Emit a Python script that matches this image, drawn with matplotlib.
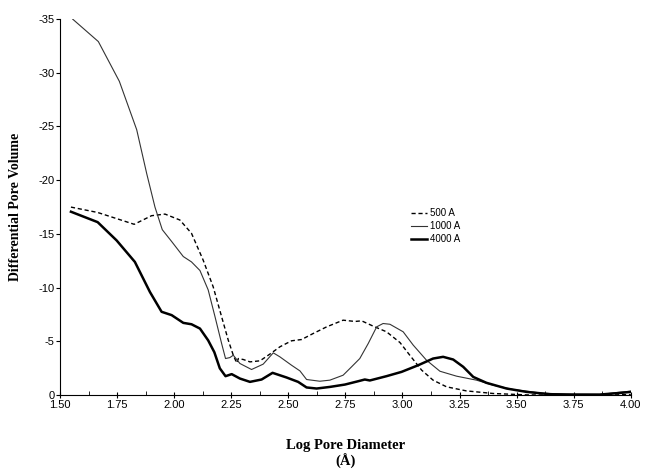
import matplotlib.pyplot as plt
from matplotlib.ticker import MultipleLocator, FormatStrFormatter

plt.rcParams['axes.unicode_minus'] = False

# pore volume curves (log diameter, differential volume)
x_500 = [1.548, 1.665, 1.825, 1.901, 1.960, 2.025, 2.076, 2.127, 2.171, 2.208,
         2.237, 2.259, 2.274, 2.281, 2.303, 2.332, 2.376, 2.419, 2.463, 2.514,
         2.558, 2.609, 2.668, 2.740, 2.792, 2.821, 2.872, 2.930, 2.989, 3.032,
         3.084, 3.134, 3.193, 3.280, 3.397, 3.543, 3.718, 3.864, 4.000]
y_500 = [-17.5, -17.0, -15.9, -16.7, -16.85, -16.3, -15.06, -12.57, -10.08, -7.29,
         -5.12, -3.72, -3.0, -3.41, -3.32, -3.1, -3.2, -3.82, -4.5, -5.06,
         -5.18, -5.74, -6.36, -6.98, -6.86, -6.92, -6.42, -5.9, -4.9, -3.72,
         -2.33, -1.40, -0.78, -0.40, -0.16, -0.03, 0.0, 0.0, -0.06]

x_1000 = [1.556, 1.668, 1.760, 1.836, 1.880, 1.916, 1.948, 1.989, 2.040, 2.076,
          2.113, 2.149, 2.179, 2.208, 2.225, 2.244, 2.259, 2.288, 2.339, 2.390,
          2.434, 2.463, 2.514, 2.551, 2.580, 2.638, 2.682, 2.740, 2.777, 2.813,
          2.850, 2.887, 2.915, 2.945, 3.003, 3.047, 3.105, 3.164, 3.237, 3.324,
          3.397, 3.485, 3.602, 3.718, 3.864, 3.952, 4.000]
y_1000 = [-34.98, -32.9, -29.2, -24.7, -20.6, -17.5, -15.4, -14.3, -12.9, -12.4,
          -11.6, -9.8, -7.3, -4.8, -3.41, -3.5, -3.72, -2.95, -2.39, -2.89,
          -3.94, -3.57, -2.79, -2.26, -1.46, -1.3, -1.4, -1.86, -2.64, -3.41,
          -4.81, -6.36, -6.67, -6.6, -5.9, -4.66, -3.26, -2.23, -1.77, -1.4,
          -0.93, -0.53, -0.21, -0.09, -0.06, -0.28, -0.37]

x_4000 = [1.548, 1.665, 1.748, 1.828, 1.894, 1.945, 1.989, 2.040, 2.076, 2.113,
          2.149, 2.176, 2.200, 2.225, 2.252, 2.288, 2.332, 2.383, 2.431, 2.492,
          2.543, 2.580, 2.624, 2.682, 2.748, 2.806, 2.835, 2.857, 2.930, 2.996,
          3.069, 3.134, 3.178, 3.222, 3.266, 3.310, 3.368, 3.456, 3.543, 3.645,
          3.747, 3.864, 3.952, 4.000]
y_4000 = [-17.07, -16.1, -14.4, -12.4, -9.6, -7.76, -7.45, -6.73, -6.6, -6.2,
          -5.1, -4.0, -2.5, -1.77, -1.96, -1.55, -1.24, -1.46, -2.08, -1.65,
          -1.24, -0.72, -0.62, -0.77, -0.99, -1.3, -1.46, -1.37, -1.77, -2.17,
          -2.79, -3.41, -3.57, -3.32, -2.64, -1.70, -1.15, -0.62, -0.31, -0.09,
          -0.06, -0.06, -0.21, -0.31]

fig = plt.figure(figsize=(6.45, 4.75), dpi=100)
ax = fig.add_axes([0.093, 0.168, 0.885, 0.792])

ax.plot(x_500, y_500, linestyle=(0, (3, 2)), color="black", linewidth=1.0, label="500 A")
ax.plot(x_1000, y_1000, linestyle="-", color="#333333", linewidth=0.8, label="1000 A")
ax.plot(x_4000, y_4000, linestyle="-", color="black", linewidth=1.8, label="4000 A")

ax.set_xlim(1.5, 4.0)
ax.set_ylim(0, -35)
ax.xaxis.set_major_locator(MultipleLocator(0.25))
ax.xaxis.set_minor_locator(MultipleLocator(0.125))
ax.xaxis.set_major_formatter(FormatStrFormatter('%.2f'))
ax.yaxis.set_major_locator(MultipleLocator(5))

for s in ["top", "right"]:
    ax.spines[s].set_visible(False)
ax.tick_params(axis="x", which="major", direction="inout", length=5, labelsize=8, pad=1)
ax.tick_params(axis="x", which="minor", direction="in", length=3)
ax.tick_params(axis="y", direction="out", length=3, labelsize=8, pad=1)
for lbl in ax.get_xticklabels() + ax.get_yticklabels():
    lbl.set_family("Liberation Sans")

ax.set_ylabel("Differential Pore Volume", family="Liberation Serif", fontsize=10,
              fontweight="bold", labelpad=12)
ax.set_xlabel("Log Pore Diameter\n(Å)", family="Liberation Serif", fontsize=10.5,
              fontweight="bold", labelpad=21, linespacing=1.15)

leg = ax.legend(loc="upper left", bbox_to_anchor=(0.6, 0.52), frameon=False,
                prop={"family": "Liberation Sans", "size": 7}, handlelength=1.6,
                handletextpad=0.3, labelspacing=0.3)

fig.savefig("out.png", dpi=100)
